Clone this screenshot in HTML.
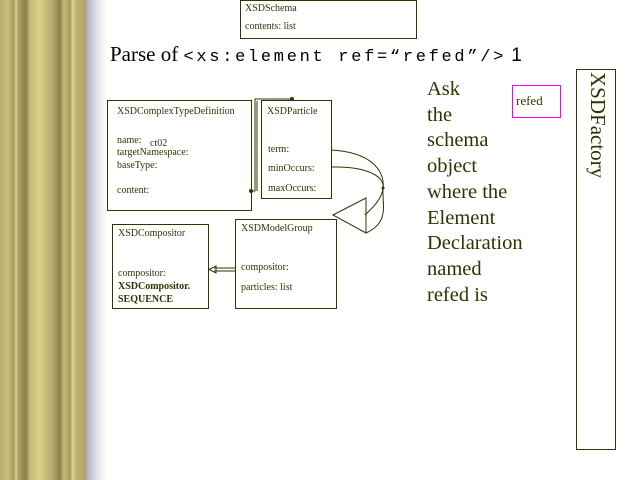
<!DOCTYPE html>
<html><head><style>
body{margin:0;width:640px;height:480px;overflow:hidden;background:#fff;position:relative;font-family:"Liberation Serif",serif;color:#333300}
#bar{position:absolute;left:0;top:0;width:86px;height:480px;background:linear-gradient(90deg,#b8ac6c 0,#c8bc80 8px,#a89a5c 14px,#e0d890 16px,#b0a464 18px,#8a7e48 26px,#c8bc7c 30px,#d8d088 40px,#b8ac6c 52px,#8a7e48 60px,#c8bc7c 64px,#a89a5c 70px,#e0d890 73px,#c0b474 76px,#b0a464 86px)}
#shade{position:absolute;left:86px;top:0;width:22px;height:480px;background:linear-gradient(90deg,#b0aab8,#e8e8ec 12px,#fff)}
.t{position:absolute;white-space:nowrap}
.s{font-size:10px}
.box{position:absolute;border:1px solid #333300;box-sizing:border-box}
</style></head><body>
<div id="bar"></div><div id="shade"></div>
<div class="box" style="left:240px;top:0;width:177px;height:39px"></div>
<div class="t s" style="left:245px;top:3px">XSDSchema</div>
<div class="t s" style="left:245px;top:21px">contents: list</div>
<div class="t" style="left:110px;top:42px;font-size:21px;color:#000">Parse of <span style="font-family:'Liberation Mono',monospace;font-size:17px;letter-spacing:2.7px">&lt;xs:element ref=“refed”/&gt;</span> <span style="font-family:'Liberation Sans',sans-serif;font-size:19px">1</span></div>

<div class="box" style="left:107px;top:100px;width:145px;height:111px"></div>
<div class="t s" style="left:117px;top:106px">XSDComplexTypeDefinition</div>
<div class="t s" style="left:117px;top:135px">name:</div>
<div class="t s" style="left:150px;top:138px">ct02</div>
<div class="t s" style="left:117px;top:147px">targetNamespace:</div>
<div class="t s" style="left:117px;top:160px">baseType:</div>
<div class="t s" style="left:117px;top:185px">content:</div>

<div class="box" style="left:261px;top:100px;width:71px;height:99px"></div>
<div class="t s" style="left:267px;top:106px">XSDParticle</div>
<div class="t s" style="left:268px;top:144px">term:</div>
<div class="t s" style="left:268px;top:163px">minOccurs:</div>
<div class="t s" style="left:268px;top:183px">maxOccurs:</div>

<div class="box" style="left:112px;top:224px;width:97px;height:85px"></div>
<div class="t s" style="left:118px;top:228px">XSDCompositor</div>
<div class="t s" style="left:118px;top:268px">compositor:</div>
<div class="t s" style="left:118px;top:280px;font-weight:bold;line-height:13px">XSDCompositor.<br>SEQUENCE</div>

<div class="box" style="left:235px;top:219px;width:102px;height:90px"></div>
<div class="t s" style="left:241px;top:223px">XSDModelGroup</div>
<div class="t s" style="left:241px;top:262px">compositor:</div>
<div class="t s" style="left:241px;top:282px">particles: list</div>

<svg style="position:absolute;left:0;top:0" width="640" height="480">
<g fill="none" stroke="#333300" stroke-width="1">
<polyline points="250,191 255,191 255,99 292,99"/>
<polyline points="257,191 257,101"/>
<path d="M331,150 C370,152 385,170 383,188 C382,200 370,210 365,215"/>
<path d="M331,167 C370,166 385,178 383,188 C382,205 390,222 366,233"/>
<polygon points="333,215 366,198 366,233"/>
<line x1="236" y1="268" x2="214" y2="268"/><line x1="236" y1="271" x2="214" y2="271"/>
<polygon points="209,269.5 216,266 216,273"/>
</g>
<circle cx="251" cy="191" r="2" fill="#333300"/>
<circle cx="292" cy="99" r="2" fill="#333300"/>
<circle cx="383" cy="188" r="1.5" fill="#333300"/>
</svg>

<div class="t" style="left:427px;top:77px;font-size:20.5px;line-height:25.7px">Ask<br>the<br>schema<br>object<br>where the<br>Element<br>Declaration<br>named<br>refed is</div>
<div class="box" style="left:512px;top:85px;width:49px;height:33px;border-color:#ff00ff"></div>
<div class="t" style="left:516px;top:93px;font-size:13px">refed</div>
<div class="box" style="left:576px;top:69px;width:40px;height:381px"></div>
<div class="t" style="left:585px;top:72px;font-size:21px;writing-mode:vertical-rl">XSDFactory</div>
</body></html>
